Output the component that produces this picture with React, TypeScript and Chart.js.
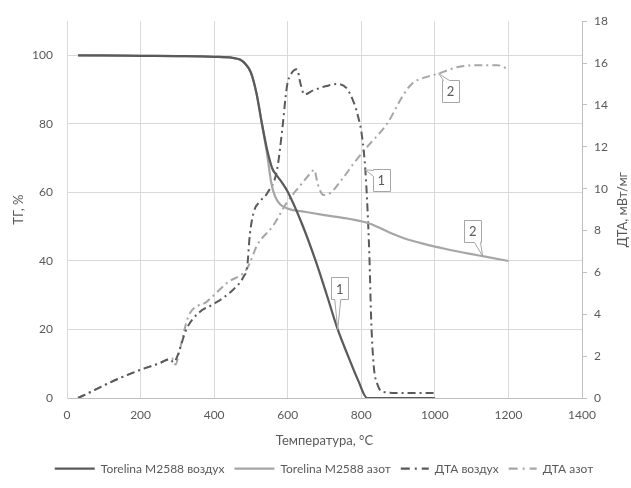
import React, { useEffect, useRef } from 'react';
import { Chart, registerables } from 'chart.js';

Chart.register(...registerables);

// ---------- text ----------
const xTitle = 'Температура, °C';
const yTitle = 'ТГ, %';
const y1Title = 'ДТА, мВт/мг';
const seriesNames = ['Torelina M2588 воздух', 'Torelina M2588 азот', 'ДТА воздух', 'ДТА азот'];

// ---------- axes ----------
const xTicks = [0, 200, 400, 600, 800, 1000, 1200, 1400];
const yTicks = [0, 20, 40, 60, 80, 100];
const y1Ticks = [0, 2, 4, 6, 8, 10, 12, 14, 16, 18];

// ---------- data: TG in air (%) ----------
const tgAirTemp = [30, 100, 200, 300, 400, 450, 470, 485, 500, 515, 530, 545, 558, 570, 585, 600, 640, 676, 705, 736, 765, 792, 816, 850, 1000];
const tgAirMass = [100, 100, 99.9, 99.8, 99.6, 99.3, 98.8, 97.5, 95, 89, 80, 72, 67, 65, 62.8, 60.2, 50.5, 40, 30.5, 20, 12, 5, 0, 0, 0];

// ---------- data: TG in nitrogen (%) ----------
const tgN2Temp = [30, 200, 400, 450, 470, 485, 500, 515, 530, 545, 555, 565, 580, 600, 650, 700, 750, 800, 820, 845, 875, 920, 970, 1030, 1100, 1130, 1200];
const tgN2Mass = [100, 99.9, 99.6, 99.3, 98.8, 97.5, 95, 89, 80, 70.5, 63, 59, 56.5, 55.3, 54.3, 53.4, 52.6, 51.6, 51.0, 49.9, 48.4, 46.5, 45.0, 43.5, 42.0, 41.4, 40];

// ---------- data: DTA in air (mW/mg) ----------
const dtaAirTemp = [30, 60, 100, 150, 200, 250, 280, 290, 300, 325, 360, 400, 450, 480, 490, 497, 508, 525, 545, 571, 585, 598, 610, 625, 635, 645, 670, 705, 735, 760, 780, 792, 802, 811, 817, 822, 827, 834, 843, 857, 900, 1000];
const dtaAirVal = [0, 0.25, 0.6, 1.0, 1.35, 1.65, 1.85, 1.7, 2.0, 3.3, 4.1, 4.5, 5.15, 5.8, 6.3, 7.8, 8.9, 9.4, 9.8, 10.9, 12.8, 14.9, 15.5, 15.7, 15.0, 14.5, 14.7, 14.9, 15.0, 14.8, 14.1, 13.4, 12.5, 10.9, 9.0, 6.8, 3.7, 1.5, 0.7, 0.3, 0.24, 0.24];

// ---------- data: DTA in nitrogen (mW/mg) ----------
const dtaN2Temp = [30, 60, 100, 150, 200, 250, 285, 295, 305, 330, 380, 435, 490, 517, 561, 598, 634, 660, 672, 682, 697, 716, 750, 779, 816, 870, 915, 940, 980, 1010, 1060, 1120, 1170, 1200];
const dtaN2Val = [0, 0.25, 0.6, 1.0, 1.35, 1.65, 1.9, 1.6, 2.2, 3.9, 4.6, 5.5, 6.2, 7.3, 8.25, 9.35, 10.15, 10.7, 10.9, 10.2, 9.7, 9.8, 10.5, 11.2, 12.0, 13.1, 14.5, 15.05, 15.35, 15.5, 15.8, 15.9, 15.9, 15.7];

// ---------- callout labels (series index, anchor temperature, text) ----------
const calloutSeries = [2, 0, 1, 3];
const calloutTemps = [811, 736, 1130, 1010];
const calloutTexts = ['1', '1', '2', '2'];
const calloutOffsets = [[16, 10], [2, -41], [-10, -25], [12, 17]];

// ---------- styles ----------
const DARK = '#5a5a5a';
const LIGHT = '#a6a6a6';
const GRID = '#d9d9d9';
const AXIS = '#bfbfbf';
const TEXT = '#595959';
const FONT = 'Lato, "Open Sans", sans-serif';
const DASH = [8, 4, 2, 4];

const zip = (xs: number[], ys: number[]) => xs.map((x, i) => ({ x, y: ys[i] }));
const seriesTemps = [tgAirTemp, tgN2Temp, dtaAirTemp, dtaN2Temp];

function drawCallout(ctx: CanvasRenderingContext2D, tx: number, ty: number, cx: number, cy: number, w: number, h: number, text: string) {
  const l = Math.round(cx - w / 2) + 0.5, r = Math.round(cx + w / 2) + 0.5;
  const t = Math.round(cy - h / 2) + 0.5, b = Math.round(cy + h / 2) + 0.5;
  const dxOut = tx < l ? l - tx : tx > r ? tx - r : 0;
  const dyOut = ty < t ? t - ty : ty > b ? ty - b : 0;
  let edge: string;
  if (dyOut >= dxOut) edge = ty < t ? 'top' : 'bottom';
  else edge = tx < l ? 'left' : 'right';
  const ww = 3;
  const cl = (v: number, a: number, bb: number) => Math.max(a, Math.min(bb, v));
  ctx.beginPath();
  ctx.moveTo(l, t);
  if (edge === 'top') { const p = cl(tx, l + ww + 1, r - ww - 1); ctx.lineTo(p - ww, t); ctx.lineTo(tx, ty); ctx.lineTo(p + ww, t); }
  ctx.lineTo(r, t);
  if (edge === 'right') { const p = cl(ty, t + ww + 1, b - ww - 1); ctx.lineTo(r, p - ww); ctx.lineTo(tx, ty); ctx.lineTo(r, p + ww); }
  ctx.lineTo(r, b);
  if (edge === 'bottom') { const p = cl(tx, l + ww + 1, r - ww - 1); ctx.lineTo(p + ww, b); ctx.lineTo(tx, ty); ctx.lineTo(p - ww, b); }
  ctx.lineTo(l, b);
  if (edge === 'left') { const p = cl(ty, t + ww + 1, b - ww - 1); ctx.lineTo(l, p + ww); ctx.lineTo(tx, ty); ctx.lineTo(l, p - ww); }
  ctx.closePath();
  ctx.fillStyle = '#ffffff';
  ctx.fill();
  ctx.strokeStyle = LIGHT;
  ctx.lineWidth = 1;
  ctx.setLineDash([]);
  ctx.stroke();
  ctx.fillStyle = TEXT;
  ctx.font = `13px ${FONT}`;
  ctx.textAlign = 'center';
  ctx.textBaseline = 'middle';
  ctx.fillText(text, cx, cy + 1);
}

const overlayPlugin = {
  id: 'overlay',
  afterDraw(chart: any) {
    const ctx: CanvasRenderingContext2D = chart.ctx;
    const area = chart.chartArea;
    ctx.save();

    // callouts
    calloutSeries.forEach((s, k) => {
      const idx = seriesTemps[s].indexOf(calloutTemps[k]);
      const el = chart.getDatasetMeta(s).data[idx];
      if (!el) return;
      const [dx, dy] = calloutOffsets[k];
      drawCallout(ctx, el.x, el.y, el.x + dx, el.y + dy, 17, 22, calloutTexts[k]);
    });

    // axis titles
    ctx.fillStyle = TEXT;
    ctx.textAlign = 'center';
    ctx.textBaseline = 'middle';
    ctx.font = `13px ${FONT}`;
    ctx.fillText(xTitle, (area.left + area.right) / 2, area.bottom + 43);
    const midY = (area.top + area.bottom) / 2;
    ctx.save();
    ctx.translate(19, midY);
    ctx.rotate(-Math.PI / 2);
    ctx.fillText(yTitle, 0, 0);
    ctx.restore();
    ctx.save();
    ctx.translate(chart.width - 8, midY);
    ctx.rotate(-Math.PI / 2);
    ctx.fillText(y1Title, 0, 0);
    ctx.restore();

    // legend
    ctx.font = `12px ${FONT}`;
    const symW = [40, 40, 28, 28];
    const colors = [DARK, LIGHT, DARK, LIGHT];
    const dashes = [[], [], [9, 5, 2, 5], [9, 5, 2, 5]];
    const gapSym = 6, gapItem = 10;
    const widths = seriesNames.map((n, i) => symW[i] + gapSym + ctx.measureText(n).width);
    const total = widths.reduce((a, b) => a + b, 0) + gapItem * (widths.length - 1);
    let x = 324 - total / 2;
    const ly = area.bottom + 70;
    seriesNames.forEach((n, i) => {
      ctx.beginPath();
      ctx.setLineDash(dashes[i]);
      ctx.strokeStyle = colors[i];
      ctx.lineWidth = 2.25;
      ctx.moveTo(x, ly + 0.5);
      ctx.lineTo(x + symW[i], ly + 0.5);
      ctx.stroke();
      ctx.setLineDash([]);
      ctx.fillStyle = TEXT;
      ctx.textAlign = 'left';
      ctx.fillText(n, x + symW[i] + gapSym, ly + 1);
      x += widths[i] + gapItem;
    });
    ctx.restore();
  },
};

export default function App() {
  const ref = useRef<HTMLCanvasElement>(null);
  useEffect(() => {
    if (!ref.current) return;
    const tickFont = { family: FONT, size: 12 };
    const plain = (v: any) => String(v);
    const chart = new Chart(ref.current, {
      type: 'line',
      data: {
        datasets: [
          { label: seriesNames[0], data: zip(tgAirTemp, tgAirMass), borderColor: DARK, borderWidth: 2.25, pointRadius: 0, cubicInterpolationMode: 'monotone', yAxisID: 'y', fill: false },
          { label: seriesNames[1], data: zip(tgN2Temp, tgN2Mass), borderColor: LIGHT, borderWidth: 2.25, pointRadius: 0, cubicInterpolationMode: 'monotone', yAxisID: 'y', fill: false },
          { label: seriesNames[2], data: zip(dtaAirTemp, dtaAirVal), borderColor: DARK, borderWidth: 2, borderDash: DASH, pointRadius: 0, cubicInterpolationMode: 'monotone', yAxisID: 'y1', fill: false },
          { label: seriesNames[3], data: zip(dtaN2Temp, dtaN2Val), borderColor: LIGHT, borderWidth: 2, borderDash: DASH, pointRadius: 0, cubicInterpolationMode: 'monotone', yAxisID: 'y1', fill: false },
        ],
      },
      options: {
        responsive: false,
        animation: false,
        devicePixelRatio: 1,
        layout: { padding: { top: 17, left: 0, right: 0, bottom: 0 } },
        plugins: { legend: { display: false }, tooltip: { enabled: false } },
        scales: {
          x: {
            type: 'linear',
            min: xTicks[0],
            max: xTicks[xTicks.length - 1],
            afterBuildTicks: (s: any) => { s.ticks = xTicks.map((v) => ({ value: v })); },
            afterFit: (s: any) => { s.height = 90; },
            grid: { color: GRID, drawTicks: false, lineWidth: 1 },
            border: { color: AXIS },
            ticks: { color: TEXT, font: tickFont, padding: 10, maxRotation: 0, callback: plain },
          },
          y: {
            position: 'left',
            min: 0,
            max: 110,
            afterBuildTicks: (s: any) => { s.ticks = yTicks.map((v) => ({ value: v })); },
            afterFit: (s: any) => { s.width = 67; },
            grid: { color: GRID, drawTicks: false, lineWidth: 1 },
            border: { color: GRID },
            ticks: { color: TEXT, font: tickFont, padding: 14, callback: plain },
          },
          y1: {
            position: 'right',
            min: 0,
            max: 18,
            afterBuildTicks: (s: any) => { s.ticks = y1Ticks.map((v) => ({ value: v })); },
            afterFit: (s: any) => { s.width = 49; },
            grid: { drawOnChartArea: false, color: AXIS, tickLength: 5, drawTicks: true },
            border: { color: AXIS },
            ticks: { color: TEXT, font: tickFont, padding: 7, callback: plain },
          },
        },
      },
      plugins: [overlayPlugin],
    } as any);
    return () => chart.destroy();
  }, []);
  return (
    <div style={{ position: 'fixed', left: 0, top: 0, width: 631, height: 488, background: '#fff' }}>
      <canvas ref={ref} width={631} height={488} style={{ width: 631, height: 488, display: 'block' }} />
    </div>
  );
}
